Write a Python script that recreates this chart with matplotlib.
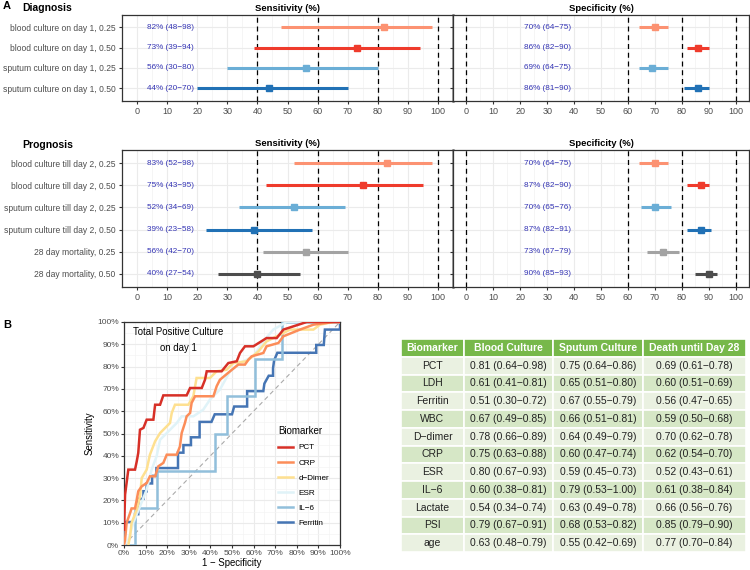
import matplotlib.pyplot as plt
import numpy as np

plt.rcParams['font.family'] = ['Liberation Sans', 'DejaVu Sans']

# ---- Panel A data ----
diag_labels = ["blood culture on day 1, 0.25", "blood culture on day 1, 0.50",
               "sputum culture on day 1, 0.25", "sputum culture on day 1, 0.50"]
diag_sens = [82, 73, 56, 44]
diag_sens_lo = [48, 39, 30, 20]
diag_sens_hi = [98, 94, 80, 70]
diag_spec = [70, 86, 69, 86]
diag_spec_lo = [64, 82, 64, 81]
diag_spec_hi = [75, 90, 75, 90]

prog_labels = ["blood culture till day 2, 0.25", "blood culture till day 2, 0.50",
               "sputum culture till day 2, 0.25", "sputum culture till day 2, 0.50",
               "28 day mortality, 0.25", "28 day mortality, 0.50"]
prog_sens = [83, 75, 52, 39, 56, 40]
prog_sens_lo = [52, 43, 34, 23, 42, 27]
prog_sens_hi = [98, 95, 69, 58, 70, 54]
prog_spec = [70, 87, 70, 87, 73, 90]
prog_spec_lo = [64, 82, 65, 82, 67, 85]
prog_spec_hi = [75, 90, 76, 91, 79, 93]

row_colors = ["#FC9272", "#EF3B2C", "#6BAED6", "#2171B5", "#A3A3A3", "#4D4D4D"]

# ---- Panel B ROC data (fpr %, tpr %) ----
pct_fpr = [0, 0.5, 2.0, 5.1, 5.9, 6.6, 7.4, 9.0, 10.5, 13.6, 14.4, 16.7, 18.2, 29.0, 30.6, 36.0,
           37.5, 38.3, 45.2, 48.3, 52.2, 53.7, 56.0, 59.9, 66.0, 70.7, 73.8, 84.6, 100]
pct_tpr = [6.9, 22.6, 33.8, 33.8, 37.5, 41.3, 51.7, 52.5, 56.2, 56.2, 62.9, 62.9, 67.1, 67.1, 70.4, 70.4,
           74.1, 77.9, 77.9, 81.6, 82.4, 86.1, 89.1, 89.1, 92.8, 92.8, 96.6, 100, 100]
crp_fpr = [0, 0.5, 1.2, 2.8, 3.5, 5.1, 5.9, 6.6, 8.2, 10.5, 12.0, 14.4, 15.9, 18.2, 19.8, 24.4, 25.9,
           26.7, 28.2, 29.0, 30.6, 31.3, 32.9, 41.4, 42.9, 44.4, 49.1, 52.9, 56.0, 57.6, 59.1, 64.5,
           66.0, 71.5, 73.8, 81.5, 87.7, 96.9, 100]
crp_tpr = [0, 2.4, 9.9, 14.3, 16.4, 16.4, 20.3, 24.1, 26.3, 27.8, 30.8, 30.8, 35.3, 36.8, 40.5, 40.5,
           44.2, 50.2, 54.7, 57.7, 59.2, 63.7, 66.7, 66.7, 71.2, 74.1, 77.9, 80.9, 80.9, 83.1, 84.6,
           86.1, 89.1, 90.6, 93.6, 96.6, 98.8, 100, 100]
ddimer_fpr = [2.0, 2.8, 3.5, 5.9, 7.4, 8.2, 10.5, 12.0, 14.4, 16.7, 21.3, 22.1, 23.6, 29.8, 32.1,
              33.6, 39.8, 42.9, 47.5, 50.6, 56.8, 62.2, 66.0, 70.7, 76.9, 87.7, 90.7, 96.9, 100]
ddimer_tpr = [0, 3.9, 9.9, 15.8, 21.8, 30.0, 33.8, 40.5, 46.5, 50.2, 54.7, 59.2, 62.9, 62.9, 66.7,
              74.9, 74.9, 77.9, 78.6, 81.6, 82.4, 86.8, 91.3, 93.6, 96.6, 96.6, 98.8, 100, 100]
esr_fpr = [0, 2.0, 4.3, 7.4, 10.5, 12.8, 15.1, 16.7, 19.8, 24.4, 26.7, 32.1, 36.7, 39.8, 44.4,
           49.1, 53.7, 59.9, 64.5, 69.1, 75.3, 100]
esr_tpr = [0, 2.4, 9.9, 17.3, 24.8, 33.8, 39.8, 47.2, 50.2, 54.7, 57.7, 57.7, 60.7, 65.2, 69.7,
           77.9, 81.6, 84.6, 91.3, 96.6, 100, 100]
il6_fpr = [0, 5.1, 5.1, 15.4, 15.4, 42.0, 42.0, 47.5, 47.5, 60.6, 60.6, 73.0, 73.0, 100]
il6_tpr = [0, 0, 16.7, 16.7, 33.3, 33.3, 50.0, 50.0, 66.7, 66.7, 83.3, 83.3, 100, 100]
ferr_fpr = [0, 0, 5.1, 5.1, 6.6, 6.6, 9.0, 9.0, 10.5, 10.5, 13.0, 13.0, 15.0, 15.0, 25.0, 25.0,
            27.5, 27.5, 31.0, 31.0, 35.0, 35.0, 40.5, 42.0, 50.0, 51.0, 57.0, 57.0, 64.5, 65.0,
            67.0, 69.0, 69.0, 69.5, 71.0, 89.0, 89.0, 92.5, 93.0, 100, 100]
ferr_tpr = [0, 10.3, 10.3, 13.8, 13.8, 20.7, 20.7, 24.1, 24.1, 27.6, 27.6, 31.0, 31.0, 34.5, 34.5,
            41.4, 41.4, 44.8, 44.8, 48.3, 48.3, 55.2, 55.2, 58.6, 58.6, 62.1, 62.1, 69.0, 69.0,
            72.4, 75.9, 75.9, 79.3, 82.8, 86.2, 86.2, 89.7, 89.7, 96.6, 96.6, 100]

roc_names = ["PCT", "CRP", "d\u2212Dimer", "ESR", "IL\u22126", "Ferritin"]
roc_colors = ["#D73027", "#FC8D59", "#FEE090", "#E0F3F8", "#91BFDB", "#4575B4"]

# ---- Table data ----
tbl_markers = ["PCT", "LDH", "Ferritin", "WBC", "D\u2212dimer", "CRP", "ESR", "IL\u22126",
               "Lactate", "PSI", "age"]
blood_auc = [(0.81, 0.64, 0.98), (0.61, 0.41, 0.81), (0.51, 0.30, 0.72), (0.67, 0.49, 0.85),
             (0.78, 0.66, 0.89), (0.75, 0.63, 0.88), (0.80, 0.67, 0.93), (0.60, 0.38, 0.81),
             (0.54, 0.34, 0.74), (0.79, 0.67, 0.91), (0.63, 0.48, 0.79)]
sputum_auc = [(0.75, 0.64, 0.86), (0.65, 0.51, 0.80), (0.67, 0.55, 0.79), (0.66, 0.51, 0.81),
              (0.64, 0.49, 0.79), (0.60, 0.47, 0.74), (0.59, 0.45, 0.73), (0.79, 0.53, 1.00),
              (0.63, 0.49, 0.78), (0.68, 0.53, 0.82), (0.55, 0.42, 0.69)]
death_auc = [(0.69, 0.61, 0.78), (0.60, 0.51, 0.69), (0.56, 0.47, 0.65), (0.59, 0.50, 0.68),
             (0.70, 0.62, 0.78), (0.62, 0.54, 0.70), (0.52, 0.43, 0.61), (0.61, 0.38, 0.84),
             (0.66, 0.56, 0.76), (0.85, 0.79, 0.90), (0.77, 0.70, 0.84)]
tbl_header = ["Biomarker", "Blood Culture", "Sputum Culture", "Death until Day 28"]

GRAY = "#4D4D4D"
LBLUE = "#3535B5"

fig = plt.figure(figsize=(7.5, 5.7), dpi=100)


def px(x0, y0, x1, y1):
    return [x0 / 750, 1 - y1 / 570, (x1 - x0) / 750, (y1 - y0) / 570]


def forest(ax, labels, est, lo, hi, vlines, text_x, show_labels, title):
    n = len(labels)
    y = np.arange(1, n + 1)
    ax.set_xlim(-5, 105)
    ax.set_ylim(n + 0.6, 0.4)
    ax.set_xticks(np.arange(0, 101, 10))
    ax.set_xticks(np.arange(5, 100, 10), minor=True)
    ax.set_yticks(y)
    ax.grid(which='major', color='#EBEBEB', lw=0.8)
    ax.grid(which='minor', axis='x', color='#F2F2F2', lw=0.5)
    ax.set_axisbelow(True)
    for v in vlines:
        ax.axvline(v, color='black', ls=(0, (4, 3)), lw=0.9)
    for i in range(n):
        ax.hlines(y[i], lo[i], hi[i], color=row_colors[i], lw=2.2, zorder=3)
        ax.plot(est[i], y[i], 's', color=row_colors[i], ms=5, zorder=4)
        ax.text(text_x, y[i], f"{est[i]}% ({lo[i]}\u2212{hi[i]})", color=LBLUE,
                fontsize=5.9, ha='center', va='center')
    if show_labels:
        ax.set_yticklabels(labels, fontsize=6.15, color=GRAY)
    else:
        ax.set_yticklabels([])
        ax.tick_params(axis='y', length=0)
    ax.tick_params(axis='x', labelsize=6.5, labelcolor=GRAY, length=2.5, color='#333333', pad=2)
    ax.tick_params(axis='y', length=2.5, color='#333333', pad=2)
    ax.tick_params(which='minor', length=0)
    for s in ax.spines.values():
        s.set_color('#333333')
        s.set_linewidth(0.9)
    ax.set_title(title, fontsize=6.8, fontweight='bold', pad=3)


ax1 = fig.add_axes(px(122, 15, 453, 100.5))
forest(ax1, diag_labels, diag_sens, diag_sens_lo, diag_sens_hi, [40, 60, 80, 100], 11, True, "Sensitivity (%)")
ax2 = fig.add_axes(px(453, 15, 749, 100.5))
forest(ax2, diag_labels, diag_spec, diag_spec_lo, diag_spec_hi, [0, 60, 80, 100], 30, False, "Specificity (%)")
ax3 = fig.add_axes(px(122, 150, 453, 287))
forest(ax3, prog_labels, prog_sens, prog_sens_lo, prog_sens_hi, [40, 60, 80, 100], 11, True, "Sensitivity (%)")
ax4 = fig.add_axes(px(453, 150, 749, 287))
forest(ax4, prog_labels, prog_spec, prog_spec_lo, prog_spec_hi, [0, 60, 80, 100], 30, False, "Specificity (%)")
for a in (ax1, ax3):
    a.spines['right'].set_color('#888888')
    a.spines['right'].set_linewidth(1.8)

fig.text(3 / 750, 1 - 6 / 570, "A", fontsize=8, fontweight='bold', va='center')
fig.text(22 / 750, 1 - 8 / 570, "Diagnosis", fontsize=7.5, fontweight='bold', va='center')
fig.text(22 / 750, 1 - 145 / 570, "Prognosis", fontsize=7.5, fontweight='bold', va='center')
fig.text(3 / 750, 1 - 325 / 570, "B", fontsize=8, fontweight='bold', va='center')

# ---- ROC ----
axr = fig.add_axes(px(124, 322, 340, 545))
axr.set_xlim(0, 100)
axr.set_ylim(0, 100)
axr.set_xticks(np.arange(0, 101, 10))
axr.set_yticks(np.arange(0, 101, 10))
axr.set_xticks(np.arange(5, 100, 10), minor=True)
axr.set_yticks(np.arange(5, 100, 10), minor=True)
axr.set_xticklabels([f"{v}%" for v in range(0, 101, 10)])
axr.set_yticklabels([f"{v}%" for v in range(0, 101, 10)])
axr.grid(which='major', color='#EBEBEB', lw=0.8)
axr.grid(which='minor', color='#F4F4F4', lw=0.5)
axr.set_axisbelow(True)
axr.plot([0, 100], [0, 100], color='#AAAAAA', ls=(0, (4, 3)), lw=0.8)
roc_fpr = [pct_fpr, crp_fpr, ddimer_fpr, esr_fpr, il6_fpr, ferr_fpr]
roc_tpr = [pct_tpr, crp_tpr, ddimer_tpr, esr_tpr, il6_tpr, ferr_tpr]
for i in range(len(roc_names) - 1, -1, -1):
    axr.plot(roc_fpr[i], roc_tpr[i], color=roc_colors[i], lw=1.8, label=roc_names[i],
             zorder=3 + (6 - i) * 0.1, solid_joinstyle='miter')
h, l = axr.get_legend_handles_labels()
leg = axr.legend(h[::-1], l[::-1], title="Biomarker", loc='upper left', bbox_to_anchor=(0.68, 0.565),
                 frameon=False, fontsize=5.9, title_fontsize=7, handlelength=1.75, labelspacing=0.9,
                 handletextpad=0.7)
leg._legend_box.align = 'left'
axr.text(25, 92, "Total Positive Culture\non day 1", ha='center', va='center', fontsize=6.9,
         linespacing=1.7)
axr.tick_params(labelsize=6, labelcolor=GRAY, length=2, color='#333333', pad=1.5)
axr.tick_params(which='minor', length=0)
for s in axr.spines.values():
    s.set_color('#333333')
    s.set_linewidth(0.9)
axr.set_xlabel("1 \u2212 Specificity", fontsize=6.9, labelpad=1)
axr.set_ylabel("Sensitivity", fontsize=6.9, labelpad=2)

# ---- Table ----
axt = fig.add_axes(px(401, 339, 746, 552))
axt.axis('off')


def fmt(t):
    return f"{t[0]:.2f} ({t[1]:.2f}\u2212{t[2]:.2f})"


cells = [[m, fmt(b), fmt(s), fmt(d)] for m, b, s, d in zip(tbl_markers, blood_auc, sputum_auc, death_auc)]
widths = np.array([63, 89, 90, 103]) / 345
tbl = axt.table(cellText=cells, colLabels=tbl_header, cellLoc='center', bbox=[0, 0, 1, 1],
                colWidths=list(widths))
tbl.auto_set_font_size(False)
tbl.set_fontsize(7.5)
for (r, c), cell in tbl.get_celld().items():
    cell.set_edgecolor('white')
    cell.set_linewidth(1.2)
    if r == 0:
        cell.set_facecolor('#77B84A')
        cell.get_text().set_color('white')
        cell.get_text().set_fontweight('bold')
    else:
        cell.set_facecolor('#EAF1E1' if r % 2 == 1 else '#D6E7C6')
        cell.get_text().set_color('#222222')

fig.savefig("out.png", dpi=100)
